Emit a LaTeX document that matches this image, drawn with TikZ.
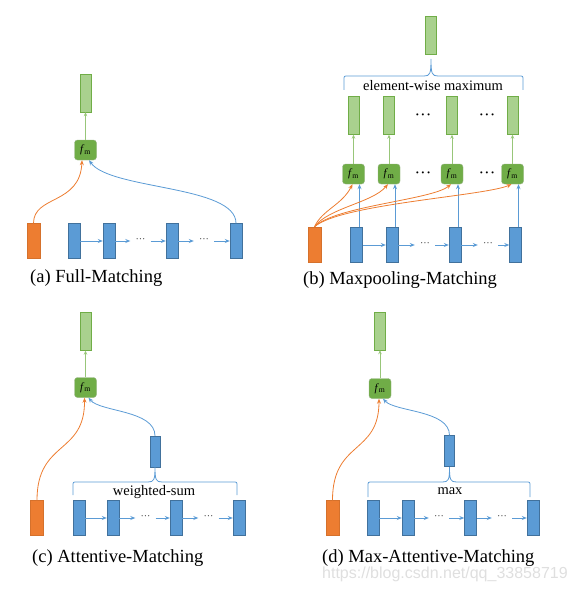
\documentclass[tikz,border=0pt]{standalone}
\usepackage{fontspec}
\setmainfont{Liberation Serif}
\newfontfamily\wmfont{Liberation Sans}
\usetikzlibrary{arrows.meta}
\definecolor{orng}{HTML}{ED7D31}
\definecolor{blu}{HTML}{5B9BD5}
\definecolor{bludark}{HTML}{41719C}
\definecolor{grnlight}{HTML}{A9D18E}
\definecolor{grn}{HTML}{70AD47}
\definecolor{grndark}{HTML}{548235}
\newcommand{\drawbrace}[6]{%
  \draw[bluebrace] (#1,#6) -- (#1,#4+4) .. controls (#1,#4) .. (#1+4,#4) -- (#3-7,#4)
    .. controls (#3-1,#4) and (#3,#4-2) .. (#3,#5)
    .. controls (#3,#4-2) and (#3+1,#4) .. (#3+7,#4) -- (#2-4,#4)
    .. controls (#2,#4) .. (#2,#4+4) -- (#2,#6);}
\newcommand{\tdots}{\textperiodcentered\textperiodcentered\textperiodcentered}
\begin{document}
\begin{tikzpicture}[x=1pt, y=-1pt,
    obox/.style={draw=orng!90!black, fill=orng, minimum width=13pt, minimum height=35pt, inner sep=0pt},
    bbox/.style={draw=bludark, fill=blu, minimum width=12pt, minimum height=35pt, inner sep=0pt},
    midbox/.style={bbox, minimum width=10pt, minimum height=31pt},
    gbox/.style={draw=grn, fill=grnlight, minimum width=11pt, minimum height=38pt, inner sep=0pt},
    fmbox/.style={draw=grndark!60, fill=grn, rounded corners=3pt, minimum width=22pt, minimum height=20pt, inner sep=0pt, font=\fontsize{11}{11}\selectfont},
    dotnode/.style={inner sep=0pt, minimum width=20pt, text=black!80, font=\fontsize{10}{10}\selectfont},
    bigdots/.style={inner sep=0pt, font=\fontsize{17}{17}\selectfont},
    oarrow/.style={draw=orng, line width=0.8pt, -{Stealth[length=5pt,width=4pt]}},
    barrow/.style={draw=blu, line width=0.8pt, -{Stealth[length=5pt,width=4pt]}},
    garrow/.style={draw=grnlight!70!grn, line width=0.8pt, -{Stealth[length=4pt,width=3.5pt]}},
    bluebrace/.style={draw=blu, line width=0.8pt},
    caption/.style={anchor=west, inner sep=0pt, font=\fontsize{18.5}{18.5}\selectfont},
    bracelabel/.style={inner sep=0pt, font=\fontsize{14.5}{14.5}\selectfont}]
  \useasboundingbox (0,0) rectangle (576,591);

  % (a)
  \node[gbox] (ga) at (85.5,93) {};
  \node[fmbox] (fa) at (85.5,150) {\textit{f}\textsubscript{m}};
  \node[obox] (oa) at (33.5,241) {};
  \node[bbox] (a1) at (74,241) {};
  \node[bbox] (a2) at (109,241) {};
  \node[dotnode] (ad1) at (140.5,241) {\tdots};
  \node[bbox] (a3) at (172,241) {};
  \node[dotnode] (ad2) at (204,241) {\tdots};
  \node[bbox] (a4) at (236,241) {};
  \draw[barrow] (a1) -- (a2);
  \draw[barrow] (a2) -- (ad1);
  \draw[barrow] (ad1) -- (a3);
  \draw[barrow] (a3) -- (ad2);
  \draw[barrow] (ad2) -- (a4);
  \draw[garrow] (fa) -- (ga);
  \draw[oarrow] (oa.north) .. controls (33.5,195) and (80,205) .. ([xshift=-3.5pt]fa.south);
  \draw[barrow] (a4.north) .. controls (236,185) and (110,190) .. ([xshift=3.5pt]fa.south);
  \node[caption] (capa) at (30,278) {(a) Full-Matching};

  % (b)
  \node[gbox] (gtop) at (431,35.5) {};
  \drawbrace{344}{523}{431}{76}{59}{90}
  \node[bracelabel] (lb) at (433,86) {element-wise maximum};
  \foreach \c [count=\i] in {353.5,389,452,512.5} {
    \node[gbox] (g\i) at (\c,115.5) {};
    \node[fmbox] (f\i) at (\c,174) {\textit{f}\textsubscript{m}};
    \node[bbox] (b\i) at (\c+3,245) {};
    \draw[garrow] (f\i) -- (g\i);
    \draw[barrow] ([xshift=3pt]b\i.north) -- ([xshift=6pt]f\i.south);
  }
  \node[bigdots] (gd1) at (423,117) {\tdots};
  \node[bigdots] (gd2) at (487,117) {\tdots};
  \node[bigdots] (fd1) at (423,175) {\tdots};
  \node[bigdots] (fd2) at (487,175) {\tdots};
  \node[dotnode] (bd1) at (425,245) {\tdots};
  \node[dotnode] (bd2) at (488,245) {\tdots};
  \draw[barrow] (b1) -- (b2);
  \draw[barrow] (b2) -- (bd1);
  \draw[barrow] (bd1) -- (b3);
  \draw[barrow] (b3) -- (bd2);
  \draw[barrow] (bd2) -- (b4);
  \node[obox] (ob) at (314.5,244.5) {};
  \draw[oarrow] (ob.north) .. controls (322,210) and (342,205) .. ([xshift=-1pt]f1.south);
  \draw[oarrow] (ob.north) .. controls (328,208) and (372,203) .. ([xshift=-1pt]f2.south);
  \draw[oarrow] (ob.north) .. controls (335,206) and (432,200) .. ([xshift=-1pt]f3.south);
  \draw[oarrow] (ob.north) .. controls (340,204) and (485,196) .. ([xshift=-1pt]f4.south);
  \node[caption] (capb) at (303,280) {(b) Maxpooling-Matching};

  % (c)
  \node[gbox] (gc) at (85.5,331.5) {};
  \node[fmbox] (fc) at (85.5,387.5) {\textit{f}\textsubscript{m}};
  \node[midbox] (mc) at (155,451.5) {};
  \drawbrace{73}{237}{155}{482}{467}{495}
  \node[bracelabel] (lc) at (154,492) {weighted-sum};
  \node[obox] (oc) at (37,518) {};
  \node[bbox] (c1) at (79,518) {};
  \node[bbox] (c2) at (113,518) {};
  \node[dotnode] (cd1) at (145.5,518) {\tdots};
  \node[bbox] (c3) at (176,518) {};
  \node[dotnode] (cd2) at (208.5,518) {\tdots};
  \node[bbox] (c4) at (239,518) {};
  \draw[barrow] (c1) -- (c2);
  \draw[barrow] (c2) -- (cd1);
  \draw[barrow] (cd1) -- (c3);
  \draw[barrow] (c3) -- (cd2);
  \draw[barrow] (cd2) -- (c4);
  \draw[garrow] (fc) -- (gc);
  \draw[oarrow] (oc.north) .. controls (37,440) and (85,455) .. ([xshift=-1pt]fc.south);
  \draw[barrow] (mc.north) .. controls (155,410) and (100,412) .. ([xshift=3pt]fc.south);
  \node[caption] (capc) at (32,558) {(c) Attentive-Matching};

  % (d)
  \node[gbox] (gd) at (380,331) {};
  \node[fmbox] (fd) at (380,388.5) {\textit{f}\textsubscript{m}};
  \node[midbox] (md) at (449.5,451) {};
  \drawbrace{368}{530}{449.5}{482}{467}{497}
  \node[bracelabel] (ld) at (450,491) {max};
  \node[obox] (od) at (332.5,518) {};
  \node[bbox] (d1) at (373,518) {};
  \node[bbox] (d2) at (408,518) {};
  \node[dotnode] (dd1) at (439,518) {\tdots};
  \node[bbox] (d3) at (470.5,518) {};
  \node[dotnode] (dd2) at (502,518) {\tdots};
  \node[bbox] (d4) at (533,518) {};
  \draw[barrow] (d1) -- (d2);
  \draw[barrow] (d2) -- (dd1);
  \draw[barrow] (dd1) -- (d3);
  \draw[barrow] (d3) -- (dd2);
  \draw[barrow] (dd2) -- (d4);
  \draw[garrow] (fd) -- (gd);
  \draw[oarrow] (od.north) .. controls (332.5,440) and (379,455) .. ([xshift=-1pt]fd.south);
  \draw[barrow] (md.north) .. controls (449.5,410) and (395,412) .. ([xshift=3pt]fd.south);
  \node[caption] (capd) at (322,558) {(d) Max-Attentive-Matching};
  \node[anchor=west, inner sep=0pt, text=gray!25, font=\wmfont\fontsize{16}{16}\selectfont] (wm) at (322,574) {https://blog.csdn.net/qq\_33858719};
\end{tikzpicture}
\end{document}
